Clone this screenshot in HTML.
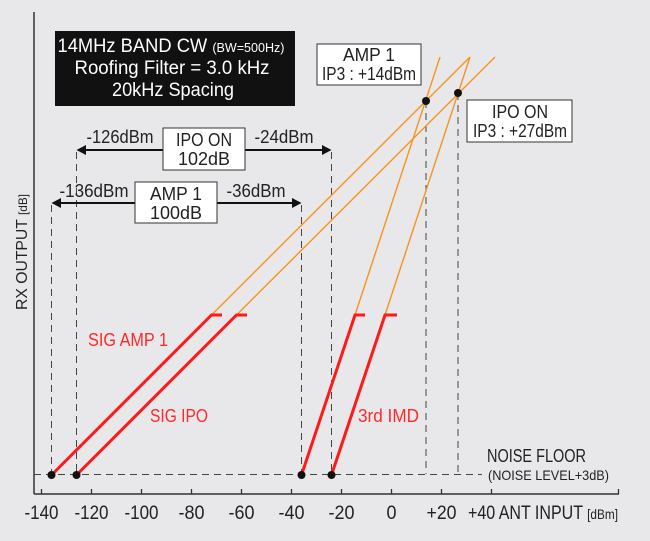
<!DOCTYPE html>
<html><head><meta charset="utf-8"><style>
html,body{margin:0;padding:0;background:#e8e8ea;}
svg{display:block;font-family:"Liberation Sans",sans-serif;}
</style></head><body>
<svg width="650" height="541" viewBox="0 0 650 541" xmlns="http://www.w3.org/2000/svg">
<rect width="650" height="541" fill="#e8e8ea"/>
<!-- axes -->
<line x1="34" y1="12" x2="34" y2="494" stroke="#333" stroke-width="1.5"/>
<line x1="34" y1="494" x2="619" y2="494" stroke="#333" stroke-width="1.5"/>
<g stroke="#333" stroke-width="1.3">
<line x1="41.5" y1="489" x2="41.5" y2="494"/><line x1="91.5" y1="489" x2="91.5" y2="494"/>
<line x1="141.5" y1="489" x2="141.5" y2="494"/><line x1="191.5" y1="489" x2="191.5" y2="494"/>
<line x1="241.5" y1="489" x2="241.5" y2="494"/><line x1="291.5" y1="489" x2="291.5" y2="494"/>
<line x1="341.5" y1="489" x2="341.5" y2="494"/><line x1="391.5" y1="489" x2="391.5" y2="494"/>
<line x1="441.5" y1="489" x2="441.5" y2="494"/><line x1="491.5" y1="489" x2="491.5" y2="494"/>
<line x1="618.5" y1="489" x2="618.5" y2="494"/>
</g>
<g font-size="19" fill="#222" text-anchor="middle">
<text x="41.5" y="519" textLength="34" lengthAdjust="spacingAndGlyphs">-140</text>
<text x="91.5" y="519" textLength="34" lengthAdjust="spacingAndGlyphs">-120</text>
<text x="141.5" y="519" textLength="34" lengthAdjust="spacingAndGlyphs">-100</text>
<text x="191.5" y="519" textLength="26" lengthAdjust="spacingAndGlyphs">-80</text>
<text x="241.5" y="519" textLength="26" lengthAdjust="spacingAndGlyphs">-60</text>
<text x="291.5" y="519" textLength="26" lengthAdjust="spacingAndGlyphs">-40</text>
<text x="341.5" y="519" textLength="26" lengthAdjust="spacingAndGlyphs">-20</text>
<text x="391.5" y="519" textLength="10" lengthAdjust="spacingAndGlyphs">0</text>
<text x="441.5" y="519" textLength="30" lengthAdjust="spacingAndGlyphs">+20</text>
</g>
<text x="468" y="519" font-size="19" fill="#222" textLength="150" lengthAdjust="spacingAndGlyphs">+40 ANT INPUT <tspan font-size="14">[dBm]</tspan></text>
<text transform="translate(27,310) rotate(-90)" font-size="16" fill="#222" textLength="116" lengthAdjust="spacingAndGlyphs">RX OUTPUT <tspan font-size="12">[dB]</tspan></text>

<!-- dashed -->
<g stroke="#444" stroke-width="1" stroke-dasharray="7,5" fill="none">
<line x1="34" y1="474.5" x2="482" y2="474.5"/>
<line x1="51.5" y1="205" x2="51.5" y2="474"/>
<line x1="76.5" y1="152" x2="76.5" y2="474"/>
<line x1="301.5" y1="205" x2="301.5" y2="474"/>
<line x1="331.5" y1="152" x2="331.5" y2="474"/>
<line x1="426" y1="101" x2="426" y2="474"/>
<line x1="458" y1="93" x2="458" y2="474"/>
</g>
<text x="487" y="462" font-size="18" fill="#222" textLength="99" lengthAdjust="spacingAndGlyphs">NOISE FLOOR</text>
<text x="488" y="480" font-size="14" fill="#222" textLength="121" lengthAdjust="spacingAndGlyphs">(NOISE LEVEL+3dB)</text>

<!-- orange -->
<g stroke="#f7931e" stroke-width="1.4">
<line x1="211.5" y1="315" x2="470" y2="57"/>
<line x1="236.5" y1="315" x2="495" y2="57"/>
<line x1="355" y1="315" x2="440" y2="57"/>
<line x1="385" y1="315" x2="470" y2="57"/>
</g>
<!-- red -->
<g stroke="#ff1a1a" stroke-width="3" fill="none">
<polyline points="51.5,475 211.5,315 222,315"/>
<polyline points="76.5,475 236.5,315 247,315"/>
<polyline points="301.5,475 355,315 365,315"/>
<polyline points="331.5,475 385,315 397,315"/>
</g>
<g fill="#111">
<circle cx="51.5" cy="475" r="4"/><circle cx="76.5" cy="475" r="4"/>
<circle cx="301.5" cy="475" r="4"/><circle cx="331.5" cy="475" r="4"/>
<circle cx="426" cy="101" r="4"/><circle cx="458" cy="93" r="4"/>
</g>
<g font-size="18" fill="#ff2a2a">
<text x="88" y="346" textLength="80" lengthAdjust="spacingAndGlyphs">SIG AMP 1</text>
<text x="150" y="422" textLength="58" lengthAdjust="spacingAndGlyphs">SIG IPO</text>
<text x="358" y="422" textLength="61" lengthAdjust="spacingAndGlyphs">3rd IMD</text>
</g>

<!-- title box -->
<rect x="55" y="31" width="240" height="75" fill="#111"/>
<g fill="#fff" font-size="19" text-anchor="middle">
<text x="171" y="52" textLength="227" lengthAdjust="spacingAndGlyphs">14MHz BAND CW <tspan font-size="13">(BW=500Hz)</tspan></text>
<text x="172" y="74" textLength="195" lengthAdjust="spacingAndGlyphs">Roofing Filter = 3.0 kHz</text>
<text x="173" y="96" textLength="122" lengthAdjust="spacingAndGlyphs">20kHz Spacing</text>
</g>

<!-- arrows -->
<g stroke="#111" stroke-width="2">
<line x1="82" y1="150" x2="326" y2="150"/>
<line x1="57" y1="203" x2="296" y2="203"/>
</g>
<g fill="#111">
<polygon points="76.5,150 86,145 86,155"/><polygon points="331.5,150 322,145 322,155"/>
<polygon points="51.5,203 61,198 61,208"/><polygon points="301.5,203 292,198 292,208"/>
</g>
<rect x="163" y="128" width="82" height="42" fill="#fff" stroke="#333" stroke-width="1"/>
<rect x="135" y="182" width="82" height="41" fill="#fff" stroke="#333" stroke-width="1"/>
<g fill="#222" font-size="18" text-anchor="middle">
<text x="204" y="146" textLength="56" lengthAdjust="spacingAndGlyphs">IPO ON</text>
<text x="204" y="165" textLength="52" lengthAdjust="spacingAndGlyphs">102dB</text>
<text x="176" y="200" textLength="52" lengthAdjust="spacingAndGlyphs">AMP 1</text>
<text x="176" y="219" textLength="52" lengthAdjust="spacingAndGlyphs">100dB</text>
<text x="120" y="143" textLength="67" lengthAdjust="spacingAndGlyphs">-126dBm</text>
<text x="284" y="143" textLength="59" lengthAdjust="spacingAndGlyphs">-24dBm</text>
<text x="94" y="197" textLength="69" lengthAdjust="spacingAndGlyphs">-136dBm</text>
<text x="256" y="197" textLength="59" lengthAdjust="spacingAndGlyphs">-36dBm</text>
</g>

<!-- IP3 boxes -->
<rect x="317" y="44" width="104" height="41" fill="#fff" stroke="#333" stroke-width="1"/>
<rect x="467" y="100" width="105" height="42" fill="#fff" stroke="#333" stroke-width="1"/>
<g fill="#222" font-size="18" text-anchor="middle">
<text x="369" y="61" textLength="52" lengthAdjust="spacingAndGlyphs">AMP 1</text>
<text x="369" y="80" textLength="94" lengthAdjust="spacingAndGlyphs">IP3 : +14dBm</text>
<text x="520" y="118" textLength="56" lengthAdjust="spacingAndGlyphs">IPO ON</text>
<text x="520" y="137" textLength="94" lengthAdjust="spacingAndGlyphs">IP3 : +27dBm</text>
</g>
</svg>
</body></html>
